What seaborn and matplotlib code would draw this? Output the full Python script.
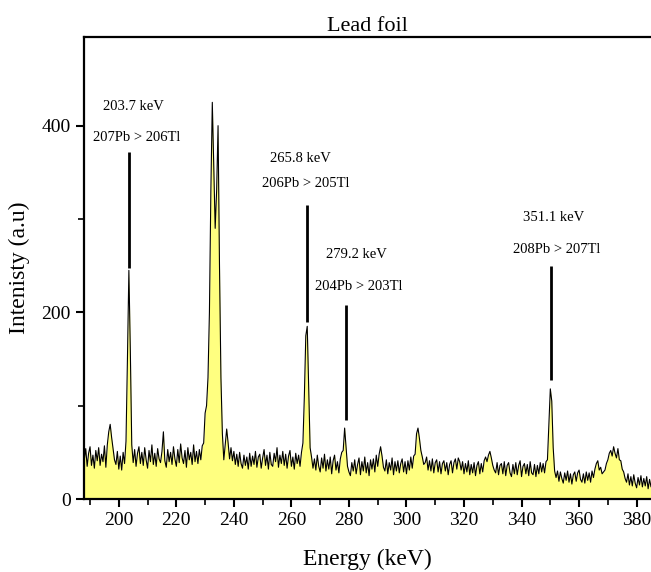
import numpy as np
import pandas as pd
import matplotlib
matplotlib.use("Agg")
import matplotlib.pyplot as plt
import seaborn as sns

# gamma spectrum, channels every 0.5 keV starting at 188 keV
energy_start = 188.0
energy_step = 0.5
counts = [
    42, 54, 35, 49, 56, 36, 47, 33, 52, 41,     # 188
    55, 36, 48, 40, 57, 34, 58, 72, 80, 66,     # 193
    54, 42, 37, 51, 32, 46, 31, 50, 38, 62,     # 198
    150, 245, 160, 58, 39, 53, 35, 49, 56, 38,  # 203
    50, 36, 55, 42, 33, 52, 40, 58, 37, 49,     # 208
    35, 54, 43, 39, 51, 72, 41, 34, 53, 40,     # 213
    50, 37, 56, 43, 35, 53, 39, 59, 44, 38,     # 218
    52, 34, 55, 42, 50, 37, 58, 40, 51, 38,     # 223
    53, 42, 57, 60, 92, 100, 130, 200, 330, 425,  # 228
    360, 290, 330, 400, 250, 130, 70, 42, 58, 75,  # 233
    60, 43, 55, 41, 51, 37, 48, 35, 50, 38,     # 238
    33, 47, 36, 45, 32, 49, 35, 46, 37, 51,     # 243
    34, 45, 48, 33, 44, 53, 36, 47, 32, 50,     # 248
    37, 35, 49, 40, 55, 34, 47, 38, 51, 36,     # 253
    48, 33, 46, 52, 35, 45, 32, 49, 38, 47,     # 258
    35, 50, 60, 110, 175, 185, 120, 55, 45, 33,  # 263
    43, 31, 47, 35, 29, 44, 33, 48, 30, 42,     # 268
    32, 45, 27, 41, 47, 31, 40, 28, 43, 50,     # 273
    52, 76, 55, 35, 29, 25, 39, 30, 42, 27,     # 278
    37, 44, 26, 40, 30, 45, 28, 39, 25, 42,     # 283
    32, 43, 29, 47, 35, 48, 56, 46, 34, 30,     # 288
    42, 27, 39, 31, 44, 26, 40, 30, 41, 28,     # 293
    38, 43, 29, 40, 27, 41, 31, 45, 33, 46,     # 298
    48, 70, 76, 65, 52, 45, 37, 39, 45, 31,     # 303
    41, 30, 43, 28, 39, 42, 29, 40, 27, 38,     # 308
    41, 30, 39, 26, 37, 41, 28, 39, 43, 32,     # 313
    44, 40, 31, 40, 27, 38, 29, 41, 26, 37,     # 318
    28, 39, 25, 36, 40, 27, 38, 29, 41, 45,     # 323
    40, 47, 51, 44, 36, 31, 28, 39, 26, 36,     # 328
    38, 27, 40, 25, 36, 39, 28, 24, 37, 27,     # 333
    39, 26, 36, 41, 24, 35, 38, 27, 37, 25,     # 338
    40, 28, 26, 37, 24, 36, 27, 39, 29, 38,     # 343
    28, 40, 42, 80, 118, 105, 55, 30, 23, 30,   # 348
    19, 29, 22, 17, 28, 20, 30, 18, 27, 16,     # 353
    26, 29, 19, 28, 31, 21, 18, 27, 17, 29,     # 358
    20, 28, 18, 30, 23, 32, 38, 41, 31, 34,     # 363
    27, 29, 31, 38, 42, 49, 52, 46, 56, 49,     # 368
    44, 54, 42, 41, 32, 29, 22, 18, 27, 15,     # 373
    24, 14, 26, 17, 12, 23, 15, 25, 13, 22,     # 378
    14, 24, 11, 21, 13, 23,                     # 383
]

# peak markers
line_x = [203.6, 265.3, 279.0, 350.2]
line_bottom = [248, 190, 85, 128]
line_top = [372, 315, 208, 250]

peak_labels = ["203.7 keV", "265.8 keV", "279.2 keV", "351.1 keV"]
peak_label_x = [205.2, 263.3, 282.6, 351.1]
peak_label_y = [421, 365, 262, 302]
decay_labels = ["207Pb > 206Tl", "206Pb > 205Tl", "204Pb > 203Tl", "208Pb > 207Tl"]
decay_label_x = [206.2, 265.1, 283.3, 352.3]
decay_label_y = [387, 338, 228, 267]

energy = energy_start + energy_step * np.arange(len(counts))
df = pd.DataFrame({"Energy": energy, "Counts": counts})

sns.set_theme(style="ticks")
plt.rcParams["font.family"] = ["Liberation Serif", "DejaVu Serif"]
plt.rcParams["text.color"] = "black"
plt.rcParams["axes.labelcolor"] = "black"

fig = plt.figure(figsize=(6.51, 5.72), dpi=100)
ax = fig.add_axes([84 / 651, 73 / 572, 567 / 651, 462 / 572])

ax.fill_between(df["Energy"], df["Counts"], 0, color="#ffff80", linewidth=0)
sns.lineplot(data=df, x="Energy", y="Counts", ax=ax, color="black", linewidth=0.8)

ax.vlines(line_x, line_bottom, line_top, color="black", linewidth=2)
for x, y, s in zip(peak_label_x, peak_label_y, peak_labels):
    ax.text(x, y, s, ha="center", va="center", fontsize=10.5, color="black")
for x, y, s in zip(decay_label_x, decay_label_y, decay_labels):
    ax.text(x, y, s, ha="center", va="center", fontsize=10.5, color="black")

ax.set_xlim(187.9, 385.0)
ax.set_ylim(0, 495)
ax.set_xticks(np.arange(200, 381, 20))
ax.set_xticks(np.arange(190, 386, 10), minor=True)
ax.set_yticks([0, 200, 400])
ax.set_yticks([100, 300], minor=True)
ax.tick_params(axis="both", which="major", direction="out", length=6, width=1.5,
               labelsize=14, colors="black")
ax.tick_params(axis="both", which="minor", direction="out", length=4, width=1.2,
               colors="black")
ax.tick_params(axis="x", which="both", top=False)

for side in ["left", "bottom", "top"]:
    ax.spines[side].set_linewidth(1.6)
    ax.spines[side].set_color("black")
ax.spines["right"].set_visible(False)

ax.set_xlabel("Energy (keV)", fontsize=17, labelpad=14, color="black")
ax.set_ylabel("Intenisty (a.u)", fontsize=17, labelpad=8, color="black")
ax.set_title("Lead foil", fontsize=16, pad=4, color="black")

fig.savefig("out.png", dpi=100)
